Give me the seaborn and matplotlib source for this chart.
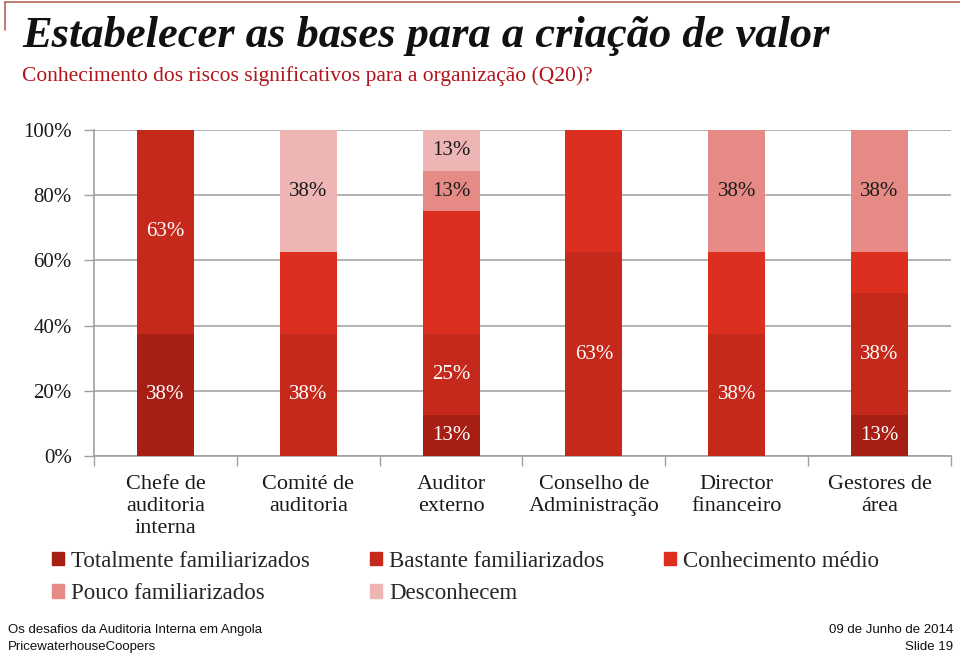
import matplotlib
matplotlib.use("Agg")
import matplotlib.pyplot as plt
import matplotlib.patches as mpatches
import seaborn as sns
import pandas as pd
import numpy as np

categories = ["Chefe de\nauditoria\ninterna", "Comité de\nauditoria", "Auditor\nexterno",
              "Conselho de\nAdministração", "Director\nfinanceiro", "Gestores de\nárea"]
series = ["Totalmente familiarizados", "Bastante familiarizados", "Conhecimento médio",
          "Pouco familiarizados", "Desconhecem"]
totalmente = [37.5, 0, 12.5, 0, 0, 12.5]
bastante = [62.5, 37.5, 25.0, 62.5, 37.5, 37.5]
medio = [0, 25.0, 37.5, 37.5, 25.0, 12.5]
pouco = [0, 0, 12.5, 0, 37.5, 37.5]
desconhecem = [0, 37.5, 12.5, 0, 0, 0]
labels_shown = [True, True, False, True, True]

colors = ["#A61E14", "#C5291B", "#DD2F20", "#E68A85", "#EDB6B5"]
text_colors = ["white", "white", "white", "#1a1a1a", "#1a1a1a"]

values = [totalmente, bastante, medio, pouco, desconhecem]
cum = np.cumsum(np.array(values), axis=0)

sns.set_theme(style="white")
serif = ["Liberation Serif", "DejaVu Serif"]
plt.rcParams["font.family"] = serif

fig = plt.figure(figsize=(9.6, 6.54), dpi=100)
ax = fig.add_axes([94/960, 1-456/654, (951-94)/960, (456-130)/654])

# draw cumulative bars from top series down so each overlaps correctly
for i in range(len(series)-1, -1, -1):
    df = pd.DataFrame({"cat": categories, "val": cum[i]})
    sns.barplot(data=df, x="cat", y="val", color=colors[i], width=0.4,
                saturation=1, ax=ax, zorder=3, linewidth=0)

# data labels
for i in range(len(series)):
    if not labels_shown[i]:
        continue
    for j, v in enumerate(values[i]):
        if v > 0:
            y = cum[i][j] - v/2
            ax.text(j, y, f"{round(v + 0.01):d}%", ha="center", va="center",
                    color=text_colors[i], fontsize=15, zorder=5, family=serif)

ax.set_ylim(0, 100)
ax.set_xlim(-0.5, len(categories)-0.5)
ax.set_yticks(range(0, 101, 20))
ax.set_yticklabels([f"{t}%" for t in range(0, 101, 20)], fontsize=15, color="#1a1a1a")
ax.set_xlabel("")
ax.set_ylabel("")
ax.set_xticks(range(len(categories)))
ax.set_xticklabels(categories, fontsize=16, color="#1a1a1a", linespacing=1.2)
ax.tick_params(axis="x", length=0, pad=14)
ax.set_xticks(np.arange(-0.5, len(categories), 1), minor=True)
ax.tick_params(axis="x", which="minor", length=7, color="#A0A0A0", width=1, direction="out", bottom=True)
ax.tick_params(axis="y", length=7, color="#A0A0A0", width=1, direction="out", left=True, pad=9)
ax.yaxis.grid(True, color="#A6A6A6", linewidth=1.2, zorder=0)
ax.set_axisbelow(True)
for s in ["top", "right"]:
    ax.spines[s].set_visible(False)
ax.spines["left"].set_color("#A0A0A0")
ax.spines["bottom"].set_color("#A0A0A0")
ax.spines["left"].set_linewidth(1.2)
ax.spines["bottom"].set_linewidth(1.2)

# titles
fig.text(22/960, 1-36/654, "Estabelecer as bases para a criação de valor", fontsize=32,
         fontweight="bold", fontstyle="italic", color="#111111", va="center", ha="left", family=serif)
fig.text(22/960, 1-76/654, "Conhecimento dos riscos significativos para a organização (Q20)?",
         fontsize=15.5, color="#B3141B", va="center", ha="left", family=serif)

# slide frame lines
fig.add_artist(plt.Line2D([5/960, 1], [1-2/654, 1-2/654], color="#B4645A", lw=1.2))
fig.add_artist(plt.Line2D([5/960, 5/960], [1-2/654, 1-30/654], color="#B4645A", lw=1.2))

# legend (row-major order)
order = [0, 3, 1, 4, 2]
handles = [mpatches.Patch(color=colors[k], label=series[k]) for k in order]
leg = fig.legend(handles=handles, ncol=3, loc="upper left", bbox_to_anchor=(31/960, 1-530/654),
                 frameon=False, handlelength=0.55, handleheight=0.55, handletextpad=0.3,
                 columnspacing=2.6, labelspacing=0.5, prop={"family": serif, "size": 16.5})

# footer
sans = ["Liberation Sans", "DejaVu Sans"]
fig.text(8/960, 1-630/654, "Os desafios da Auditoria Interna em Angola", fontsize=9.5, family=sans,
         va="center", ha="left", color="#111111")
fig.text(8/960, 1-647/654, "PricewaterhouseCoopers", fontsize=9.5, family=sans,
         va="center", ha="left", color="#111111")
fig.text(953/960, 1-630/654, "09 de Junho de 2014", fontsize=9.5, family=sans,
         va="center", ha="right", color="#111111")
fig.text(953/960, 1-647/654, "Slide 19", fontsize=9.5, family=sans,
         va="center", ha="right", color="#111111")

fig.savefig("out.png", dpi=100)
